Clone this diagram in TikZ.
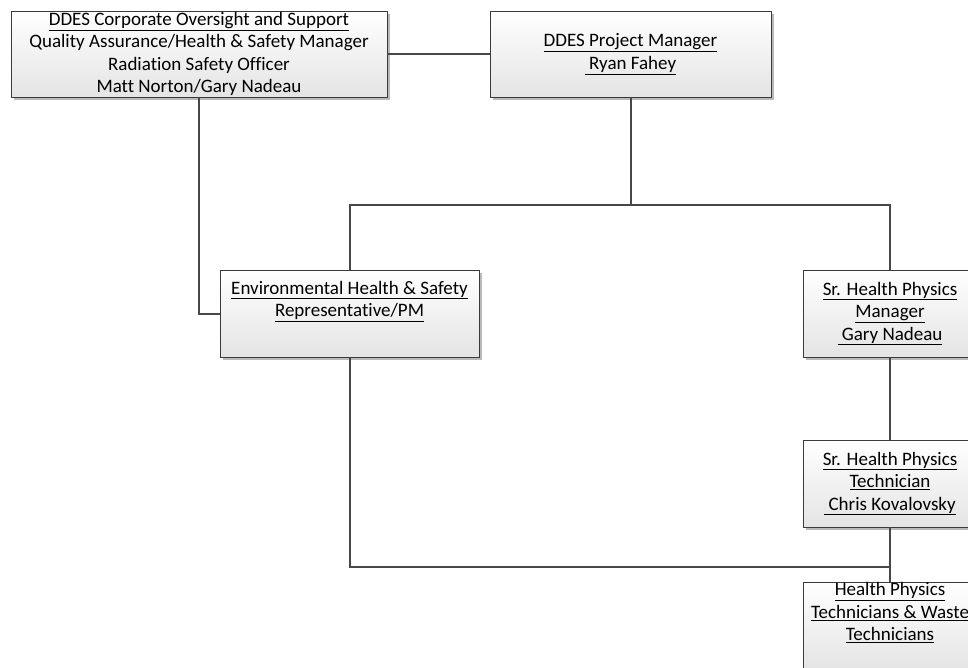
\documentclass[tikz,border=0pt]{standalone}
\usepackage{fontspec}
\setmainfont{Carlito}[Ligatures=NoCommon]
\usetikzlibrary{positioning, shadows}
\definecolor{boxLine}{HTML}{3A3A3A}
\definecolor{wireGray}{HTML}{484848}
\definecolor{boxShade}{HTML}{E4E4E4}

\begin{document}
\begin{tikzpicture}[x=1pt, y=-1pt,
    orgbox/.style={draw=boxLine, line width=0.8pt, top color=white, bottom color=boxShade,
      align=center, inner sep=0pt, font=\fontsize{19}{22.5}\selectfont,
      drop shadow={shadow xshift=3pt, shadow yshift=-3pt, fill=gray!55, opacity=1}},
    smallbox/.style={orgbox, minimum width=174pt, minimum height=87pt},
    wire/.style={draw=wireGray, line width=2pt}]
  \clip (0,0) rectangle (968,667);
  % top row
  \node[orgbox, minimum width=376pt, minimum height=86pt] (corp) at (199,54)
    {\underline{DDES Corporate Oversight and Support}\\Quality Assurance/Health \& Safety Manager\\Radiation Safety Officer\\Matt Norton/Gary Nadeau};
  \node[orgbox, minimum width=281pt, minimum height=86pt] (pm) at (630.5,54)
    {\underline{DDES Project Manager}\\\underline{\ Ryan Fahey}};
  % second row
  \node[orgbox, minimum width=259pt, minimum height=87pt] (ehs) at (349.5,313.5)
    {\underline{Environmental Health \& Safety}\\\underline{Representative/PM}\\\strut};
  \node[smallbox] (hpm) at (890,313.5)
    {\underline{Sr. Health Physics}\\\underline{Manager}\\\underline{\ Gary Nadeau}};
  % right column
  \node[smallbox] (hpt) at (890,483.5)
    {\underline{Sr. Health Physics}\\\underline{Technician}\\\underline{\ Chris Kovalovsky}};
  \node[smallbox] (hp) at (890,626.5)
    {\underline{Health Physics}\\\underline{Technicians \& Waste}\\\underline{Technicians}\\\strut};
  \coordinate (bus) at (630.5,205);
  \coordinate (tie) at (890,567);
  % connectors
  \draw[wire] (corp.east) -- (pm.west);
  \draw[wire] (pm.south) -- (bus);
  \draw[wire] (ehs.north) -- (ehs.north |- bus) -| (hpm.north);
  \draw[wire] (corp.south) |- (ehs.west);
  \draw[wire] (hpm.south) -- (hpt.north);
  \draw[wire] (hpt.south) -- (hp.north);
  \draw[wire] (ehs.south) |- (tie);
\end{tikzpicture}
\end{document}
